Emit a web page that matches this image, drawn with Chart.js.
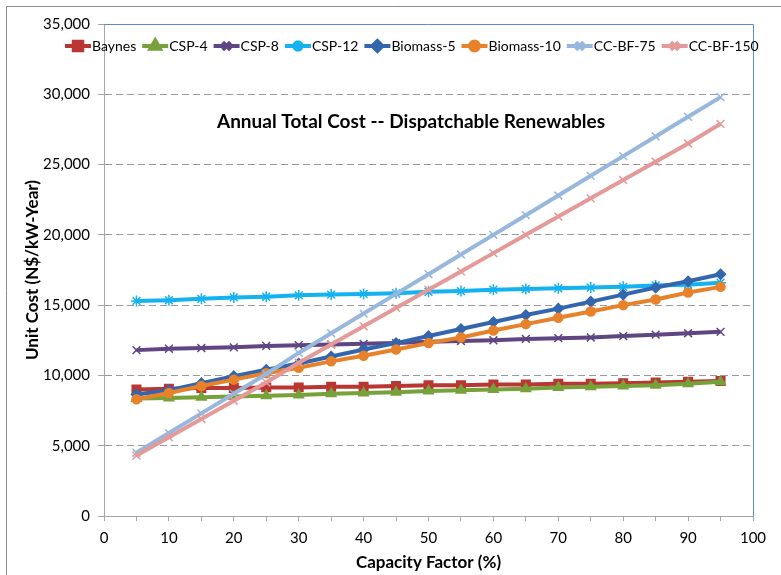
<!DOCTYPE html>
<html>
<head>
<meta charset="utf-8">
<script src="https://cdn.jsdelivr.net/npm/chart.js@4.4.1/dist/chart.umd.min.js"></script>
<style>
    html, body { margin: 0; padding: 0; background: #fff; }
    #wrap { position: relative; width: 781px; height: 575px; }
</style>
</head>
<body>
<div id="wrap"><canvas id="costChart"></canvas></div>
<script>
const capacityFactor = [5, 10, 15, 20, 25, 30, 35, 40, 45, 50, 55, 60, 65, 70, 75, 80, 85, 90, 95];

const baynes = [9000, 9050, 9100, 9100, 9150, 9150, 9200, 9200, 9250, 9300, 9300, 9350, 9350, 9400, 9400, 9450, 9500, 9550, 9600];
const csp4 = [8350, 8400, 8450, 8500, 8550, 8600, 8700, 8750, 8800, 8900, 8950, 9000, 9050, 9150, 9200, 9250, 9300, 9400, 9550];
const csp8 = [11800, 11900, 11950, 12000, 12100, 12150, 12200, 12250, 12300, 12400, 12450, 12500, 12600, 12650, 12700, 12800, 12900, 13000, 13100];
const csp12 = [15300, 15350, 15450, 15550, 15600, 15700, 15750, 15800, 15850, 15950, 16000, 16100, 16150, 16200, 16250, 16300, 16400, 16450, 16600];
const biomass5 = [8650, 8950, 9450, 9950, 10400, 10850, 11350, 11850, 12300, 12800, 13300, 13800, 14300, 14750, 15250, 15750, 16250, 16700, 17200];
const biomass10 = [8300, 8750, 9250, 9700, 10150, 10550, 11000, 11400, 11850, 12300, 12700, 13200, 13650, 14100, 14550, 15000, 15400, 15900, 16300];
const ccbf75 = [4500, 5900, 7300, 8700, 10100, 11600, 13000, 14400, 15800, 17200, 18600, 20000, 21400, 22800, 24200, 25600, 27000, 28400, 29800];
const ccbf150 = [4300, 5600, 6900, 8200, 9500, 10900, 12200, 13500, 14800, 16100, 17400, 18700, 20000, 21300, 22600, 23900, 25200, 26500, 27900];

const seriesNames = ['Baynes', 'CSP-4', 'CSP-8', 'CSP-12', 'Biomass-5', 'Biomass-10', 'CC-BF-75', 'CC-BF-150'];
const seriesValues = [baynes, csp4, csp8, csp12, biomass5, biomass10, ccbf75, ccbf150];
const seriesColors = ['#B93633', '#77A13A', '#5F4682', '#14B2EE', '#3466AD', '#E8822A', '#97B7DD', '#E49A98'];
const seriesMarkers = ['rect', 'triangle', 'crossRot', 'star', 'rectRot', 'circle', 'crossRot', 'crossRot'];
const markerSizes = [6, 5.5, 5.5, 5.5, 5, 4.5, 5.5, 5.5];

const chartTitle = 'Annual Total Cost -- Dispatchable Renewables';
const xTitle = 'Capacity Factor (%)';
const yTitle = 'Unit Cost (N$/kW-Year)';

const FONT = "Lato, 'Open Sans', sans-serif";

// title + legend drawn inside the plot, like the Excel original
const insidePlugin = {
    id: 'insideText',
    afterDraw: function (chart) {
        const ctx = chart.ctx;
        const area = chart.chartArea;
        ctx.save();

        // outer frame (only left and top show in the picture)
        ctx.strokeStyle = '#8C8C8C';
        ctx.lineWidth = 1;
        ctx.beginPath();
        ctx.moveTo(6.5, 575);
        ctx.lineTo(6.5, 6.5);
        ctx.lineTo(781, 6.5);
        ctx.stroke();

        // top and right border of the plot area
        ctx.strokeStyle = '#5B8BC9';
        ctx.beginPath();
        ctx.moveTo(area.left, area.top + 0.5);
        ctx.lineTo(area.right + 0.5, area.top + 0.5);
        ctx.lineTo(area.right + 0.5, area.bottom);
        ctx.stroke();

        // title
        ctx.fillStyle = '#000';
        ctx.font = "bold 19px " + FONT;
        ctx.textAlign = 'center';
        ctx.textBaseline = 'middle';
        ctx.fillText(chartTitle, 411, 122);

        // legend
        ctx.font = "14px " + FONT;
        ctx.textAlign = 'left';
        let x = 65;
        const y = 46;
        chart.data.datasets.forEach(function (ds, i) {
            ctx.strokeStyle = ds.borderColor;
            ctx.lineWidth = 4;
            ctx.beginPath();
            ctx.moveTo(x, y);
            ctx.lineTo(x + 26, y);
            ctx.stroke();
            ctx.fillStyle = ds.pointBackgroundColor;
            ctx.strokeStyle = ds.pointBorderColor;
            Chart.helpers.drawPoint(ctx, {
                pointStyle: ds.pointStyle,
                radius: ds.pointRadius,
                rotation: 0,
                borderWidth: ds.pointBorderWidth
            }, x + 13, y);
            ctx.fillStyle = '#000';
            ctx.fillText(ds.label, x + 27, y);
            x += 27 + ctx.measureText(ds.label).width + 6;
        });
        ctx.restore();
    }
};

function buildDatasets() {
    return seriesNames.map(function (name, i) {
        return {
            label: name,
            data: seriesValues[i].map(function (v, j) {
                return { x: capacityFactor[j], y: v };
            }),
            borderColor: seriesColors[i],
            backgroundColor: seriesColors[i],
            borderWidth: 4,
            pointStyle: seriesMarkers[i],
            pointRadius: markerSizes[i],
            pointBackgroundColor: seriesColors[i],
            pointBorderColor: seriesColors[i],
            pointBorderWidth: 1.5,
            tension: 0,
            order: -i
        };
    });
}

function loadCostChart() {
    const ctx = document.getElementById('costChart');
    new Chart(ctx, {
        type: 'line',
        data: { datasets: buildDatasets() },
        options: {
            responsive: true,
            maintainAspectRatio: false,
            animation: false,
            layout: {
                padding: { left: 0, right: 28, top: 24, bottom: 0 }
            },
            plugins: {
                legend: { display: false },
                tooltip: { enabled: false }
            },
            scales: {
                x: {
                    type: 'linear',
                    min: 0,
                    max: 100,
                    afterFit: function (scale) { scale.height = 59; },
                    ticks: {
                        stepSize: 5,
                        autoSkip: false,
                        maxRotation: 0,
                        padding: 8,
                        color: '#000',
                        font: { family: FONT, size: 15 },
                        callback: function (v) { return v % 10 === 0 ? String(v) : ''; }
                    },
                    grid: {
                        drawOnChartArea: false,
                        drawTicks: true,
                        tickLength: 5,
                        tickColor: '#A6A6A6'
                    },
                    border: { color: '#A6A6A6', width: 1 },
                    title: {
                        display: true,
                        text: xTitle,
                        color: '#000',
                        font: { family: FONT, size: 17, weight: 'bold' },
                        padding: { top: 0, bottom: 2 }
                    }
                },
                y: {
                    min: 0,
                    max: 35000,
                    afterFit: function (scale) { scale.width = 104; },
                    ticks: {
                        stepSize: 5000,
                        padding: 8,
                        color: '#000',
                        font: { family: FONT, size: 15 },
                        callback: function (v) { return v.toLocaleString('en-US'); }
                    },
                    grid: {
                        color: function (c) {
                            const v = c.tick ? c.tick.value : 0;
                            return (v === 0 || v === 35000) ? 'rgba(0,0,0,0)' : '#9A9A9A';
                        },
                        tickColor: '#A6A6A6',
                        tickLength: 6,
                        tickBorderDash: []
                    },
                    border: { color: '#A6A6A6', width: 1, dash: [7, 4] },
                    title: {
                        display: true,
                        text: yTitle,
                        color: '#000',
                        font: { family: FONT, size: 17, weight: 'bold' },
                        padding: { top: 22, bottom: 0 }
                    }
                }
            }
        },
        plugins: [insidePlugin]
    });
}

loadCostChart();
</script>
</body>
</html>
